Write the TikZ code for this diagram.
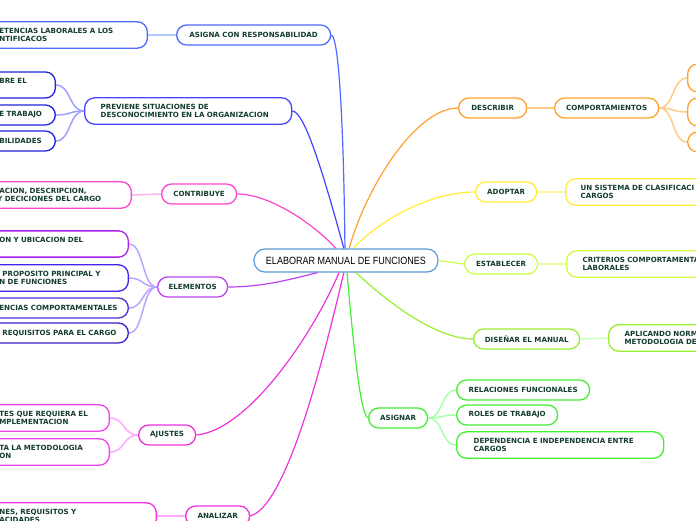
\documentclass[tikz,border=0pt]{standalone}
\usepackage{fontspec}
\usepackage{tikz}
\newfontfamily\boxfont{DejaVu Sans}
\newfontfamily\rootfont[FakeStretch=0.86]{Liberation Sans}
\definecolor{txt}{HTML}{143D2C}
\definecolor{rootblue}{HTML}{5B9BD5}
\definecolor{blueA}{HTML}{4D6BFF}
\definecolor{blueAl}{HTML}{B5C8FF}
\definecolor{blueB}{HTML}{4444FF}
\definecolor{blueBd}{HTML}{2222DD}
\definecolor{blueBl}{HTML}{A0A0FF}
\definecolor{pinkA}{HTML}{FF44CC}
\definecolor{pinkAl}{HTML}{FFB3EE}
\definecolor{purp}{HTML}{BB44EE}
\definecolor{purpA}{HTML}{AA22EE}
\definecolor{purpB}{HTML}{4422EE}
\definecolor{purpC}{HTML}{4433DD}
\definecolor{purpD}{HTML}{3322CC}
\definecolor{purpl}{HTML}{BBA6FF}
\definecolor{magA}{HTML}{EE33DD}
\definecolor{magB}{HTML}{EE44EE}
\definecolor{magl}{HTML}{FFAAFF}
\definecolor{orng}{HTML}{FFA030}
\definecolor{orngl}{HTML}{FFCC88}
\definecolor{yell}{HTML}{FFEE33}
\definecolor{yelll}{HTML}{FFF59A}
\definecolor{lime}{HTML}{CCFF44}
\definecolor{limel}{HTML}{E6FF99}
\definecolor{grnA}{HTML}{99EE33}
\definecolor{grnAl}{HTML}{CCFFBB}
\definecolor{grnB}{HTML}{44EE33}
\definecolor{grnBl}{HTML}{AAFFAA}

\begin{document}
\begin{tikzpicture}[x=1pt, y=-1pt,
    topic/.style = {draw, fill=white, rounded corners=10pt, line width=1.3pt, minimum height=20pt,
        inner xsep=10pt, inner ysep=6.5pt, text=txt, font={\boxfont\bfseries\fontsize{7.1}{8}\selectfont}},
    rootnode/.style = {draw=rootblue, fill=white, rounded corners=11pt, line width=1.2pt,
        minimum width=184pt, minimum height=23pt, inner sep=0pt, font={\rootfont\fontsize{10.5}{12}\selectfont}},
    branch/.style = {line width=1.2pt},
    twig/.style = {line width=1.5pt}]
    \useasboundingbox (0,0) rectangle (696,520);
    \clip (0,0) rectangle (696,520);
    \fill[white] (0,0) rectangle (696,520);

    % main branches, left
    \node[topic, draw=blueA, minimum width=154pt, anchor=west] (1) at (176,35) {ASIGNA CON RESPONSABILIDAD};
    \node[topic, draw=blueB, anchor=west, inner xsep=16pt, text width=175pt, align=left] (2) at (84,111) {PREVIENE SITUACIONES DE\\DESCONOCIMIENTO EN LA ORGANIZACION};
    \node[topic, draw=pinkA, minimum width=75pt, anchor=west] (3) at (161,194) {CONTRIBUYE};
    \node[topic, draw=purp, minimum width=70pt, anchor=west] (4) at (157,287) {ELEMENTOS};
    \node[topic, draw=magA, minimum width=57pt, anchor=west] (5) at (138,435) {AJUSTES};
    \node[topic, draw=magA, minimum width=64pt, anchor=west] (6) at (185,516) {ANALIZAR};

    % main branches, right
    \node[topic, draw=orng, minimum width=68pt, anchor=west] (7) at (458,108) {DESCRIBIR};
    \node[topic, draw=yell, minimum width=61pt, anchor=west] (8) at (475,192) {ADOPTAR};
    \node[topic, draw=lime, minimum width=73pt, anchor=west] (9) at (464,264) {ESTABLECER};
    \node[topic, draw=grnA, minimum width=106pt, anchor=west] (10) at (473,339) {DISEÑAR EL MANUAL};
    \node[topic, draw=grnB, minimum width=59pt, anchor=west] (11) at (368,418) {ASIGNAR};

    % sub topics, left
    \node[topic, draw=blueA, anchor=east, text width=138pt, align=left] (12) at (148,35) {ETENCIAS LABORALES A LOS\\NTIFICACOS};
    \node[topic, draw=blueBd, anchor=east, text width=46pt, align=left] (13) at (56,85) {BRE EL\\\phantom{X}};
    \node[topic, draw=blueBd, anchor=east, text width=46pt, align=left] (14) at (56,115) {E TRABAJO};
    \node[topic, draw=blueBd, anchor=east, text width=46pt, align=left] (15) at (56,141) {BILIDADES};
    \node[topic, draw=pinkA, anchor=east, text width=124pt, align=left] (16) at (132,195) {\hspace*{2pt}ACION, DESCRIPCION,\\Y DECICIONES DEL CARGO};
    \node[topic, draw=purpA, anchor=east, text width=119pt, align=left] (17) at (129,244) {ON Y UBICACION DEL\\\phantom{X}};
    \node[topic, draw=purpB, anchor=east, text width=119pt, align=left] (18) at (129,278) {\hspace*{3pt}PROPOSITO PRINCIPAL Y\\N DE FUNCIONES};
    \node[topic, draw=purpC, anchor=east, text width=119pt, align=left] (19) at (129,308) {ENCIAS COMPORTAMENTALES};
    \node[topic, draw=purpD, anchor=east, text width=119pt, align=left] (20) at (129,333) {\hspace*{3pt}REQUISITOS PARA EL CARGO};
    \node[topic, draw=magB, anchor=east, text width=100pt, align=left] (21) at (110,418) {TES QUE REQUIERA EL\\MPLEMENTACION};
    \node[topic, draw=magB, anchor=east, text width=100pt, align=left] (22) at (110,452) {TA LA METODOLOGIA\\ON};
    \node[topic, draw=magA, anchor=east, text width=147pt, align=left] (23) at (157,516) {NES, REQUISITOS Y\\ACIDADES};

    % sub topics, right
    \node[topic, draw=orng, minimum width=104pt, anchor=west] (24) at (554,108) {COMPORTAMIENTOS};
    \node[topic, draw=orng, minimum width=60pt, minimum height=28pt, anchor=west] (25) at (687,78) {};
    \node[topic, draw=orng, minimum width=60pt, minimum height=28pt, anchor=west] (26) at (687,112) {};
    \node[topic, draw=orng, minimum width=60pt, anchor=west] (27) at (687,142) {};
    \node[topic, draw=yell, anchor=west, inner xsep=15pt, text width=140pt, align=left] (28) at (565,192) {UN SISTEMA DE CLASIFICACI\\CARGOS};
    \node[topic, draw=lime, anchor=west, inner xsep=16pt, text width=140pt, align=left] (29) at (566,264) {CRITERIOS COMPORTAMENTA\\LABORALES};
    \node[topic, draw=grnA, anchor=west, inner xsep=16pt, text width=100pt, align=left] (30) at (608,338) {APLICANDO NORM\\METODOLOGIA DE};
    \node[topic, draw=grnB, minimum width=133pt, anchor=west] (31) at (456,390) {RELACIONES FUNCIONALES};
    \node[topic, draw=grnB, minimum width=101pt, anchor=west] (32) at (456,415) {ROLES DE TRABAJO};
    \node[topic, draw=grnB, anchor=west, inner xsep=17pt, text width=173pt, align=left] (33) at (456,445) {DEPENDENCIA E INDEPENDENCIA ENTRE\\CARGOS};

    \node[rootnode] (0) at (346,260.5) {ELABORAR MANUAL DE FUNCIONES};

    % branches to the root
    \draw[branch, blueA] (1.east) .. controls (340,37) and (344,150) .. (0.95);
    \draw[branch, blueB] (2.east) .. controls (305,111) and (325,180) .. (0.100);
    \draw[branch, pinkA] (3.east) .. controls (270,194) and (315,225) .. (0.130);
    \draw[branch, purp] (4.east) .. controls (265,287) and (295,278) .. (0.-157);
    \draw[branch, magA] (5.east) .. controls (250,430) and (315,330) .. (0.-120);
    \draw[branch, magA] (6.east) .. controls (290,505) and (330,330) .. (0.-100);
    \draw[branch, orng] (7.west) .. controls (415,108) and (365,190) .. (0.75);
    \draw[branch, yell] (8.west) .. controls (425,192) and (375,225) .. (0.60);
    \draw[branch, lime] (9.west) -- (0.east);
    \draw[branch, grnA] (10.west) .. controls (435,339) and (385,300) .. (0.-50);
    \draw[branch, grnB] (11.west) .. controls (360,416) and (352,330) .. (0.-85);

    % twigs
    \draw[twig, blueAl] (12.east) -- (1.west);
    \draw[twig, blueBl] (2.west) .. controls +(-15,0) and +(15,0) .. (13.east);
    \draw[twig, blueBl] (2.west) .. controls +(-15,0) and +(15,0) .. (14.east);
    \draw[twig, blueBl] (2.west) .. controls +(-15,0) and +(15,0) .. (15.east);
    \draw[twig, pinkAl] (16.east) -- (3.west);
    \draw[twig, purpl] (4.west) .. controls +(-15,0) and +(15,0) .. (17.east);
    \draw[twig, purpl] (4.west) .. controls +(-15,0) and +(15,0) .. (18.east);
    \draw[twig, purpl] (4.west) .. controls +(-15,0) and +(15,0) .. (19.east);
    \draw[twig, purpl] (4.west) .. controls +(-15,0) and +(15,0) .. (20.east);
    \draw[twig, magl] (5.west) .. controls +(-15,0) and +(15,0) .. (21.east);
    \draw[twig, magl] (5.west) .. controls +(-15,0) and +(15,0) .. (22.east);
    \draw[twig, magl] (23.east) -- (6.west);
    \draw[twig, orngl] (7.east) -- (24.west);
    \draw[twig, orngl] (24.east) .. controls +(15,0) and +(-15,0) .. (25.west);
    \draw[twig, orngl] (24.east) .. controls +(15,0) and +(-15,0) .. (26.west);
    \draw[twig, orngl] (24.east) .. controls +(15,0) and +(-15,0) .. (27.west);
    \draw[twig, yelll] (8.east) -- (28.west);
    \draw[twig, limel] (9.east) -- (29.west);
    \draw[twig, grnAl] (10.east) -- (30.west);
    \draw[twig, grnBl] (11.east) .. controls +(15,0) and +(-15,0) .. (31.west);
    \draw[twig, grnBl] (11.east) .. controls +(15,0) and +(-15,0) .. (32.west);
    \draw[twig, grnBl] (11.east) .. controls +(15,0) and +(-15,0) .. (33.west);
\end{tikzpicture}
\end{document}
